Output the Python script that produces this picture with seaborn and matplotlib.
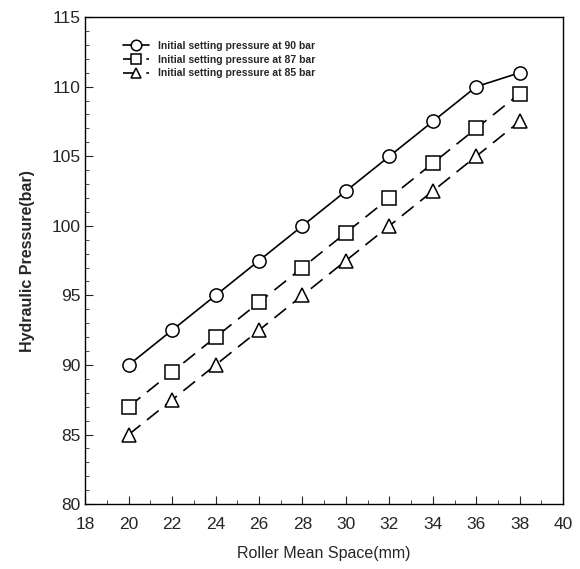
import pandas as pd
import matplotlib.pyplot as plt
import seaborn as sns
from matplotlib.ticker import MultipleLocator

# Data
spacing = [20, 22, 24, 26, 28, 30, 32, 34, 36, 38]
p90 = [90, 92.5, 95, 97.5, 100, 102.5, 105, 107.5, 110, 111]
p87 = [87, 89.5, 92, 94.5, 97, 99.5, 102, 104.5, 107, 109.5]
p85 = [85, 87.5, 90, 92.5, 95, 97.5, 100, 102.5, 105, 107.5]
labels = ["Initial setting pressure at 90 bar",
          "Initial setting pressure at 87 bar",
          "Initial setting pressure at 85 bar"]

df = pd.DataFrame({
    "space": spacing * 3,
    "pressure": p90 + p87 + p85,
    "series": [labels[0]] * 10 + [labels[1]] * 10 + [labels[2]] * 10,
})

sns.set_style("ticks")
plt.rcParams['font.family'] = ['Liberation Sans', 'DejaVu Sans']

fig = plt.figure(figsize=(5.8, 5.69), dpi=100)
ax = fig.add_axes([0.147, 0.114, 0.824, 0.856])

sns.lineplot(
    data=df, x="space", y="pressure", hue="series", style="series",
    palette=["black"] * 3,
    dashes=[(None, None), (9, 5), (9, 5)],
    markers=["o", "s", "^"],
    markersize=9.5, markerfacecolor="white", markeredgecolor="black",
    markeredgewidth=1.1, linewidth=1.2, ax=ax,
)

ax.set_xlim(18, 40)
ax.set_ylim(80, 115)
ax.xaxis.set_major_locator(MultipleLocator(2))
ax.xaxis.set_minor_locator(MultipleLocator(1))
ax.yaxis.set_major_locator(MultipleLocator(5))
ax.yaxis.set_minor_locator(MultipleLocator(1))
ax.tick_params(which="both", direction="in", labelsize=12.5)
ax.tick_params(which="major", length=6)
ax.tick_params(which="minor", length=3)
ax.tick_params(axis="x", which="major", pad=9)
for s in ax.spines.values():
    s.set_linewidth(1.0)
    s.set_color("black")

ax.set_xlabel("Roller Mean Space(mm)", fontsize=11.5, labelpad=10)
ax.set_ylabel("Hydraulic Pressure(bar)", fontsize=11.5, fontweight="bold",
              labelpad=12)

leg = ax.legend(loc="upper left", bbox_to_anchor=(0.06, 0.97), frameon=False,
                prop={"size": 7.5, "weight": "bold"}, handlelength=2.5,
                labelspacing=0.35, markerscale=0.8)

fig.savefig("out.png", dpi=100)
